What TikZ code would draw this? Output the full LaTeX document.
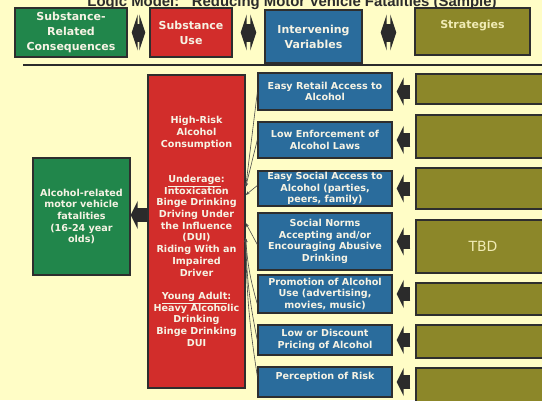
\documentclass[tikz,border=0pt]{standalone}
\usepackage{fontspec}
\setmainfont{DejaVu Sans}
\newfontfamily\titlefont{Liberation Sans}
\usetikzlibrary{arrows.meta}

\definecolor{paper}{HTML}{FFFDC6}
\definecolor{consgreen}{HTML}{21864B}
\definecolor{userred}{HTML}{D22D2B}
\definecolor{varblue}{HTML}{2A6C9C}
\definecolor{stratolive}{HTML}{8C8729}
\definecolor{edge}{HTML}{2E2E2E}
\definecolor{boxtext}{HTML}{F6F3E4}
\definecolor{strattext}{HTML}{F0EBB4}
\definecolor{ink}{HTML}{2B2B2B}

\begin{document}
\begin{tikzpicture}[x=1pt,y=-1pt,
  box/.style={draw=edge, line width=1.4pt, align=center, inner sep=0pt,
    text=boxtext, font=\bfseries\fontsize{9.6}{11.7}\selectfont},
  headbox/.style={box, font=\bfseries\fontsize{11}{15}\selectfont},
  dbl/.style={draw=ink, line width=18pt,
    {Triangle[width=36pt,length=6pt]}-{Triangle[width=36pt,length=6pt]}},
  blk/.style={draw=ink, line width=14pt, -{Triangle[width=28pt,length=7pt]}},
  conn/.style={draw=ink!85, line width=0.6pt, -{Stealth[length=4pt,width=3pt]}}
]
\useasboundingbox (0,0) rectangle (542,400);
\clip (0,0) rectangle (542,400);
\fill[paper] (0,0) rectangle (542,400);

% title (runs off the top edge)
\node[anchor=base, font=\titlefont\bfseries\fontsize{14.9}{17}\selectfont, text=ink]
  (title) at (292,6.5) {Logic Model: "Reducing Motor Vehicle Fatalities (Sample)};

% header row
\node[headbox, fill=consgreen, minimum width=112, minimum height=49]
  (tg) at (71,32.5) {Substance-\\Related\\Consequences};
\node[headbox, fill=userred, minimum width=82, minimum height=49]
  (tr) at (191,32.5) {Substance\\Use};
\node[headbox, fill=varblue, minimum width=97, minimum height=53]
  (tb) at (313.5,36.5) {Intervening\\Variables};
\node[headbox, fill=stratolive, text=strattext, minimum width=115, minimum height=47]
  (to) at (472.5,31.5) {Strategies\\\mbox{}};

\draw[dbl, shorten <=4pt, shorten >=4pt] (tg.east) -- (tr.west);
\draw[dbl, shorten <=8pt, shorten >=8pt] (tr.east) -- (tr.east -| tb.west);
\draw[dbl, shorten <=18pt, shorten >=18pt] (tb.east |- tr.east) -- (tr.east -| to.west);

% rule under the header
\draw[line width=2.4pt, ink] (23,65) -- (542,65);

% consequence and substance use
\node[box, fill=consgreen, minimum width=97, minimum height=117]
  (g) at (81.5,216.5) {Alcohol-related\\motor vehicle\\fatalities\\(16-24 year\\olds)};
\node[box, fill=userred, minimum width=97, minimum height=313]
  (r) at (196.5,231.5) {High-Risk\\Alcohol\\Consumption\\[23.4pt]
   \underline{Underage}:\\Intoxication\\Binge Drinking\\Driving Under\\the Influence\\(DUI)\\Riding With an\\Impaired\\Driver\\[11.7pt]
   \underline{Young Adult}:\\Heavy Alcoholic\\Drinking\\Binge Drinking\\DUI};

\draw[blk] ([yshift=16.5pt]r.west) -- ([yshift=16.5pt]r.west -| g.east);

% intervening variables
\begin{scope}[every node/.append style={box, fill=varblue, minimum width=134}]
\node[minimum height=37] (b1) at (325,91.5) {Easy Retail Access to\\Alcohol};
\node[minimum height=36] (b2) at (325,140) {Low Enforcement of\\Alcohol Laws};
\node[minimum height=35] (b3) at (325,188.5) {Easy Social Access to\\Alcohol (parties,\\peers, family)};
\node[minimum height=57] (b4) at (325,241.5) {Social Norms\\Accepting and/or\\Encouraging Abusive\\Drinking};
\node[minimum height=38] (b5) at (325,294) {Promotion of Alcohol\\Use (advertising,\\movies, music)};
\node[minimum height=30] (b6) at (325,340) {Low or Discount\\Pricing of Alcohol};
\node[minimum height=30] (b7) at (325,382) {Perception of Risk\\\mbox{}};
\end{scope}

% strategies (to be determined)
\begin{scope}[every node/.append style={box, fill=stratolive, minimum width=144}]
\node[minimum height=30] (o1) at (488,89) {};
\node[minimum height=43] (o2) at (488,136.5) {};
\node[minimum height=41] (o3) at (488,188.5) {};
\node[minimum height=53, text=strattext, font=\fontsize{14}{16}\selectfont] (o4) at (488,246.5) {TBD\hspace{10pt}};
\node[minimum height=32] (o5) at (488,299) {};
\node[minimum height=33] (o6) at (488,341.5) {};
\node[minimum height=42] (o7) at (488,389) {};
\end{scope}

\foreach \i in {1,...,7}
  \draw[blk, shorten <=5pt, shorten >=4pt] (b\i.east -| o\i.west) -- (b\i.east);

% links from the intervening variables into substance use
\draw[conn] ([yshift=-1pt]b1.west) -- ([yshift=44.5pt]r.east);
\draw[conn] (b2.west) -- ([yshift=44.5pt]r.east);
\draw[conn] ([yshift=3pt]b3.west) -- ([yshift=36.5pt]r.east);
\draw[conn] ([yshift=-3pt]b4.west) -- ([yshift=8.5pt]r.east);
\draw[conn] ([yshift=-10pt]b5.west) to[bend left=6] ([yshift=-6.5pt]r.east);
\draw[conn] (b6.west) to[bend left=5] ([yshift=-6.5pt]r.east);
\draw[conn] ([yshift=6pt]b7.west) to[bend left=4] ([yshift=-6.5pt]r.east);
\end{tikzpicture}
\end{document}
